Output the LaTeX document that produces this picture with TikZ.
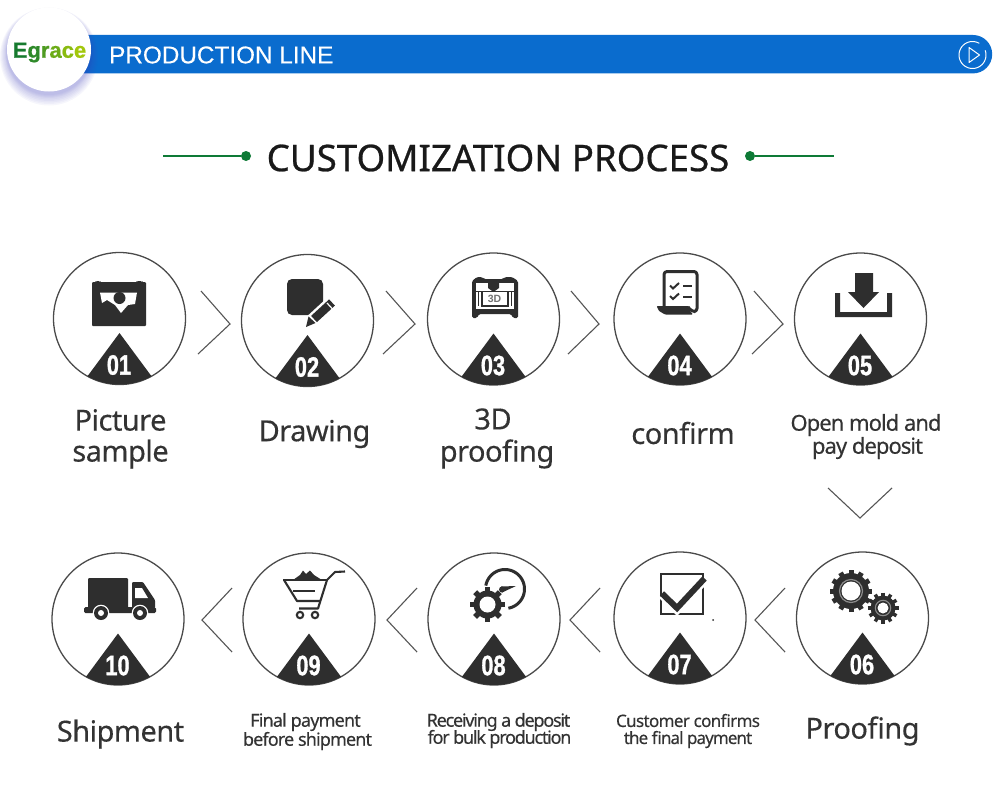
\documentclass[tikz,border=0pt]{standalone}
\usepackage{fontspec}
\usepackage{graphicx}
\setmainfont{Noto Sans}
\newfontfamily\arialf{Liberation Sans}
\newfontfamily\arialfb{Liberation Sans}[FakeBold=0.25]
\newfontfamily\numf{Liberation Sans}[BoldFeatures={FakeBold=1.2}]
\newfontfamily\logof{Liberation Sans}[BoldFeatures={FakeBold=0.8}]
\newfontfamily\lab{Noto Sans}[FakeBold=0.3]
\newfontfamily\titlef{Noto Sans}[FakeBold=0.7]
\newcommand{\bigtxt}[1]{\fontsize{29}{29}\lab\addfontfeature{LetterSpace=-1.8}#1}
\newcommand{\midtxt}[1]{\fontsize{22}{22}\lab\addfontfeature{LetterSpace=-4.4}#1}
\newcommand{\smalltxt}[2]{\fontsize{18}{18}\lab\addfontfeature{LetterSpace=#1}#2}
\newcommand{\tinytxt}[2]{\fontsize{17}{17}\lab\addfontfeature{LetterSpace=#1}#2}
\definecolor{ink}{HTML}{2E2E2E}
\definecolor{ringc}{HTML}{4A4A4A}
\definecolor{txtc}{HTML}{333333}
\definecolor{bluebar}{HTML}{0A6CCE}
\definecolor{titlegreen}{HTML}{0E7A36}
\definecolor{chev}{HTML}{555555}
\tikzset{
  stepring/.style={circle,draw=ringc,line width=1.3pt,minimum size=132pt,inner sep=0pt},
  chevron/.style={draw=chev,line width=1.1pt,line join=miter},
  steplabel/.style={text=txtc,align=center,inner sep=0pt},
  numlabel/.style={text=white,inner sep=0pt},
}
\newcommand{\stepbadge}[4]{% name cx cy number
  \node[stepring] (#1) at (#2,#3) {};
  \fill[ink] plot[domain=-119:-61,samples=24] ({#2+66*cos(\x)},{#3-66*sin(\x)}) -- (#2,#3+14.5) -- cycle;
  \node[numlabel] (n#1) at (#2-0.5,#3+46.5) {\scalebox{0.78}[1]{\fontsize{28}{28}\numf\bfseries #4}};
}
\newcommand{\gearicon}[7]{% cx cy rOut rBody rWhite teeth toothwidth
  \fill[ink] (#1,#2) circle[radius=#4];
  \foreach \i in {1,...,#6}
    \draw[ink,line width=#7pt,line cap=butt] ({#1+#3*cos(\i*360/#6)},{#2+#3*sin(\i*360/#6)}) -- (#1,#2);
  \fill[white] (#1,#2) circle[radius=#5];
}
\begin{document}
\begin{tikzpicture}[x=1pt,y=-1pt]
\useasboundingbox (0,0) rectangle (1000,800);
\fill[white] (0,0) rectangle (1000,800);
% banner
\fill[bluebar] (60,35) -- (973,35) arc[start angle=90,end angle=-90,radius=19.2pt] -- (60,73.4) -- cycle;
\node[inner sep=0pt,anchor=west,text=white] (bannertext) at (109,55) {\fontsize{24.3}{25}\arialfb PRODUCTION LINE};
% play icon
\draw[white,line width=1pt] plot[domain=-300:20,samples=40] ({972.5+13.5*cos(\x)},{55-13.5*sin(\x)});
\draw[white,line width=1pt,line join=round] (969,47.5) -- (979.5,55) -- (969,62.5) -- cycle;
% logo
\foreach \r/\dy in {49/7,48/6.5,47/6,46/5.5,45/5,44/4.5,43.5/4,43/3.5,42.5/3}
  \fill[blue!50!gray,opacity=0.045] (49,49.5+\dy) circle[radius=\r];
\node[circle,fill=white,minimum size=84pt,inner sep=0pt] (logo) at (49,49.5) {};
\node[inner sep=0pt] (logotext) at (49.5,52.5) {\fontsize{22}{22}\logof\bfseries\textcolor[HTML]{167A2E}{E}\textcolor[HTML]{2F8A2A}{g}\textcolor[HTML]{4F9C22}{r}\textcolor[HTML]{6CAC18}{a}\textcolor[HTML]{8ABB10}{c}\textcolor[HTML]{A2C70C}{e}};
% title
\node[inner sep=0pt,text=black!90] (title) at (498,158) {\fontsize{36.7}{38}\titlef CUSTOMIZATION PROCESS};
\coordinate (tl) at (163,156);
\node[circle,fill=titlegreen,minimum size=10pt,inner sep=0pt] (dl) at (246,156) {};
\coordinate (tr) at (834,156);
\node[circle,fill=titlegreen,minimum size=10pt,inner sep=0pt] (dr) at (750,156) {};
\draw[titlegreen,line width=1.8pt] (tl) -- (dl);
\draw[titlegreen,line width=1.8pt] (dr) -- (tr);
% rings and badges
\stepbadge{s1}{119.5}{318.5}{01}
\stepbadge{s2}{307.5}{320.5}{02}
\stepbadge{s3}{493.5}{319}{03}
\stepbadge{s4}{680}{319}{04}
\stepbadge{s5}{860.5}{319}{05}
\stepbadge{s6}{862.5}{618}{06}
\stepbadge{s7}{680}{618}{07}
\stepbadge{s8}{494}{619}{08}
\stepbadge{s9}{309}{619}{09}
\stepbadge{s10}{118}{619}{10}
% chevrons
\draw[chevron] (201,291) -- (230,324) -- (198,354);
\draw[chevron] (386,291) -- (415,324) -- (383,354);
\draw[chevron] (571,291) -- (599,324) -- (568,354);
\draw[chevron] (754,291) -- (783,324) -- (752,354);
\draw[chevron] (828,488) -- (860,518) -- (892,488);
\draw[chevron] (232,588) -- (202,620) -- (232,652);
\draw[chevron] (417,588) -- (387,620) -- (417,652);
\draw[chevron] (600,588) -- (570,620) -- (600,652);
\draw[chevron] (785,588) -- (755,620) -- (785,652);
% icon 01
\fill[ink,rounded corners=1pt] (92,282) -- (96,282) -- (96,281) -- (100,281) -- (100,282) -- (137,282) -- (137,281) -- (142,281) -- (142,282) -- (146,282) -- (146,326) -- (92,326) -- cycle;
\fill[white,line join=round] (100,292.5) -- (137,292.5) -- (135,304) -- (128,305) -- (121,313) -- (115,305) -- (107,300) -- (102,303) -- cycle;
\fill[ink] (119.5,298) circle[radius=6];
% icon 02
\fill[ink,rounded corners=5pt] (287,279) rectangle (323,315);
\draw[white,line width=14pt] (309,324) -- (334,301);
\draw[ink,line width=8.5pt] (314,319) -- (332,302.5);
\draw[white,line width=1.2pt] (327,303) -- (333,309.5);
\fill[ink] (306,327) -- (308.5,316.5) -- (315.5,323) -- cycle;
% icon 03
\fill[ink,rounded corners=1.5pt] (472,281) -- (477,277) -- (482,277) -- (484,279) -- (503,279) -- (505,277) -- (512,277) -- (518,281) -- (518,318) -- (513,318) -- (511,314) -- (479,314) -- (477,318) -- (472,318) -- cycle;
\fill[white] (476,283) rectangle (514,309);
\fill[ink] (488,283) -- (499,283) -- (499,288) -- (493.5,292) -- (488,288) -- cycle;
\draw[ink,line width=1pt] (476,291) -- (514,291);
\draw[ink,line width=1.5pt] (478.5,291) -- (478.5,306);
\draw[ink,line width=1.5pt] (511.5,291) -- (511.5,306);
\draw[ink,line width=1.3pt] (482,291) -- (482,306) -- (508,306) -- (508,291);
\fill[ink,line join=round] (476,309) -- (514,309) -- (514,312) -- (476,312) -- cycle;
\node[inner sep=0pt,text=black!55] (threed) at (494.5,298.5) {\fontsize{10.5}{11}\arialf\bfseries 3D};
% icon 04
\draw[ink,line width=3pt,rounded corners=3pt,line join=round] (664,306) -- (664,271.5) -- (697,271.5) -- (697,311.5) -- (692,311.5) -- (688,307);
\fill[ink,rounded corners=1pt] (656.5,306) -- (689,306) -- (690,311) -- (693,314.5) -- (665,314.5) -- (659,311) -- cycle;
\draw[ink,line width=2pt] (670,285.5) -- (673,288.5) -- (679,283);
\draw[ink,line width=2pt] (670,296) -- (673,299) -- (679,293.5);
\draw[ink,line width=2.2pt] (683,286) -- (692,286);
\draw[ink,line width=2.2pt] (683,297) -- (692,297);
% icon 05
\fill[ink] (835,293) -- (840,293) -- (840,312) -- (887,312) -- (887,293) -- (892,293) -- (892,317) -- (835,317) -- cycle;
\fill[ink] (855,273) -- (873,273) -- (873,292) -- (879,292) -- (863.5,308) -- (848,292) -- (855,292) -- cycle;
% icon 06
\gearicon{851}{591}{21}{18}{9.5}{12}{5}
\draw[black!45,line width=1.2pt] (851,591) circle[radius=11.5];
\gearicon{883}{608}{15.5}{12.5}{5.5}{12}{3.5}
\draw[black!45,line width=1.1pt] (883,608) circle[radius=7.7];
% icon 07
\draw[ink,line width=2.4pt] (661,574) rectangle (703,614);
\draw[white,line width=11pt] (663,594) -- (677,608) -- (703,580);
\draw[ink,line width=6pt] (662,593.5) -- (677,608) -- (704.5,578.5);
\fill[ink] (713,620) circle[radius=1];
% icon 08
\gearicon{487.5}{604.5}{17.5}{14}{8}{8}{5.5}
\draw[ink,line width=3pt] plot[domain=-80:170,samples=40] ({505+19.5*cos(\x)},{589-19.5*sin(\x)});
\fill[ink] (502,589.5) circle[radius=3];
\fill[ink] (501,586.5) -- (516,586) -- (502,592.5) -- cycle;
% icon 09
\draw[ink,line width=2.1pt,line join=round] (283,580) -- (327,580);
\draw[ink,line width=2.1pt,line join=round] (284,580) -- (297,601) -- (320,601);
\draw[ink,line width=2.1pt,line join=round] (293,591) -- (315,591);
\draw[ink,line width=2.1pt,line join=round] (299,608.5) -- (318,608.5) -- (327,580) -- (335,572) -- (345,571.5);
\draw[ink,line width=2.1pt] (300,615) circle[radius=3.2];
\draw[ink,line width=2.1pt] (315,615) circle[radius=3.2];
\fill[ink] (293,580) -- (300,575) -- (303,570.5) -- (306,574) -- (310,570.5) -- (314,575) -- (322,580) -- cycle;
% icon 10
\fill[ink,rounded corners=1pt] (88,578) rectangle (128,610);
\fill[ink,rounded corners=1.5pt] (84,607) rectangle (156,613);
\fill[ink,rounded corners=1pt] (132,582) -- (143,582) -- (155,600) -- (155,608) -- (132,608) -- cycle;
\fill[white] (135,588) -- (142,588) -- (148,598) -- (135,598) -- cycle;
\foreach \c in {101,140}{
  \fill[white] (\c,613) circle[radius=8.3];
  \fill[ink] (\c,613) circle[radius=7];
  \fill[white] (\c,613) circle[radius=3];
}
% labels
\node[steplabel] (l1a) at (120.5,420) {\bigtxt{Picture}};
\node[steplabel] (l1b) at (120.5,454) {\bigtxt{sample}};
\node[steplabel] (l2) at (314.5,434) {\bigtxt{Drawing}};
\node[steplabel] (l3a) at (493,419) {\bigtxt{3D}};
\node[steplabel] (l3b) at (497,454) {\bigtxt{proofing}};
\node[steplabel] (l4) at (683,433) {\bigtxt{confirm}};
\node[steplabel] (l5a) at (866,425) {\midtxt{Open mold and}};
\node[steplabel] (l5b) at (867.5,448) {\midtxt{pay deposit}};
\node[steplabel] (l6) at (862.5,731) {\bigtxt{Proofing}};
\node[steplabel] (l7a) at (688,720.5) {\tinytxt{-3.8}{Customer confirms}};
\node[steplabel] (l7b) at (688,739.5) {\tinytxt{-5.5}{the final payment}};
\node[steplabel] (l8a) at (498.5,722) {\smalltxt{-6.8}{Receiving a deposit}};
\node[steplabel] (l8b) at (499.5,739) {\smalltxt{-6.8}{for bulk production}};
\node[steplabel] (l9a) at (305.5,722) {\smalltxt{-4.5}{Final payment}};
\node[steplabel] (l9b) at (307.5,741) {\smalltxt{-4.8}{before shipment}};
\node[steplabel] (l10) at (120.5,734) {\bigtxt{Shipment}};
\end{tikzpicture}
\end{document}
